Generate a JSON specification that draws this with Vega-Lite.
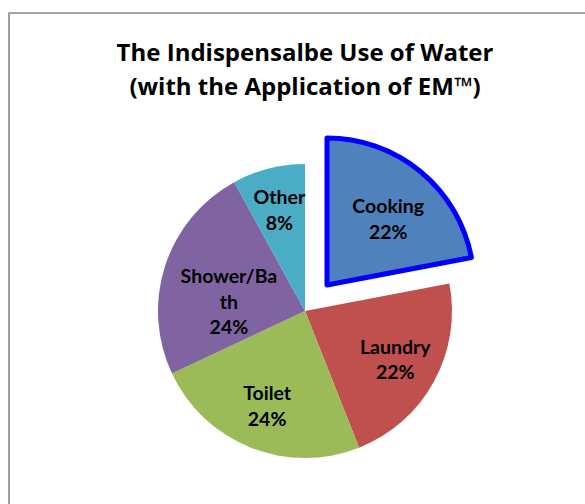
{
  "$schema": "https://vega.github.io/schema/vega-lite/v6.json",
  "width": 592,
  "height": 596,
  "autosize": "none",
  "padding": {"left": 9, "top": 13, "right": 0, "bottom": 0},
  "background": "white",
  "config": {"view": {"stroke": null}},
  "title": {
    "text": ["The Indispensalbe Use of Water", "(with the Application of EM™)"],
    "font": "Open Sans",
    "fontSize": 24,
    "fontWeight": "bold",
    "color": "black",
    "anchor": "middle",
    "offset": -88,
    "lineHeight": 34
  },
  "data": {
    "values": [
      {"category": "Cooking", "value": 22, "label": "Cooking\n22%"},
      {"category": "Laundry", "value": 22, "label": "Laundry\n22%"},
      {"category": "Toilet", "value": 24, "label": "Toilet\n24%"},
      {"category": "Shower/Bath", "value": 24, "label": "Shower/Ba\nth\n24%"},
      {"category": "Other", "value": 8, "label": "Other\n8%"}
    ]
  },
  "transform": [{"stack": "value", "groupby": [], "as": ["v0", "v1"]}],
  "layer": [
    {
      "data": {"values": [{"frame": "border"}]},
      "mark": {"type": "rect", "fill": null, "stroke": "#878787", "strokeWidth": 1.6},
      "encoding": {}
    },
    {
      "transform": [{"filter": "datum.category !== 'Cooking'"}],
      "mark": {"type": "arc", "outerRadius": 147},
      "encoding": {
        "theta": {"field": "v0", "type": "quantitative", "scale": {"domain": [0, 100]}},
        "theta2": {"field": "v1"},
        "color": {
          "field": "category",
          "type": "nominal",
          "scale": {
            "domain": ["Cooking", "Laundry", "Toilet", "Shower/Bath", "Other"],
            "range": ["#4F81BD", "#C0504D", "#9BBB59", "#8064A2", "#4BACC6"]
          },
          "legend": null
        }
      }
    },
    {
      "transform": [{"filter": "datum.category === 'Cooking'"}],
      "mark": {"type": "arc", "outerRadius": 147, "xOffset": 22, "yOffset": -26, "stroke": "#0000FF", "strokeWidth": 5, "strokeJoin": "round"},
      "encoding": {
        "theta": {"field": "v0", "type": "quantitative", "scale": {"domain": [0, 100]}},
        "theta2": {"field": "v1"},
        "color": {"field": "category", "type": "nominal", "legend": null}
      }
    },
    {
      "mark": {"type": "text", "radius": 103, "yOffset": -12.75, "font": "Lato", "fontSize": 19.5, "fontWeight": "bold", "lineBreak": "\n", "lineHeight": 25.5, "color": "black", "baseline": "middle", "align": "center"},
      "encoding": {
        "theta": {"field": "value", "type": "quantitative", "stack": true, "scale": {"domain": [0, 100]}},
        "order": {"field": "v0", "type": "quantitative"},
        "detail": {"field": "category"},
        "text": {"field": "label", "condition": {"test": "datum.category === 'Cooking' || datum.category === 'Shower/Bath'", "value": ""}}
      }
    },
    {
      "mark": {"type": "text", "radius": 80, "yOffset": -9, "font": "Lato", "fontSize": 19.5, "fontWeight": "bold", "lineBreak": "\n", "lineHeight": 25.5, "color": "black", "baseline": "middle", "align": "center"},
      "encoding": {
        "theta": {"field": "value", "type": "quantitative", "stack": true, "scale": {"domain": [0, 100]}},
        "order": {"field": "v0", "type": "quantitative"},
        "detail": {"field": "category"},
        "text": {"field": "label", "condition": {"test": "datum.category !== 'Shower/Bath'", "value": ""}}
      }
    },
    {
      "transform": [{"filter": "datum.category === 'Cooking'"}],
      "mark": {"type": "text", "radius": 96, "xOffset": 22, "yOffset": -30, "font": "Lato", "fontSize": 19.5, "fontWeight": "bold", "lineBreak": "\n", "lineHeight": 25.5, "color": "black", "baseline": "middle", "align": "center"},
      "encoding": {
        "theta": {"field": "value", "type": "quantitative", "stack": true, "scale": {"domain": [0, 100]}},
        "text": {"field": "label"}
      }
    }
  ]
}
